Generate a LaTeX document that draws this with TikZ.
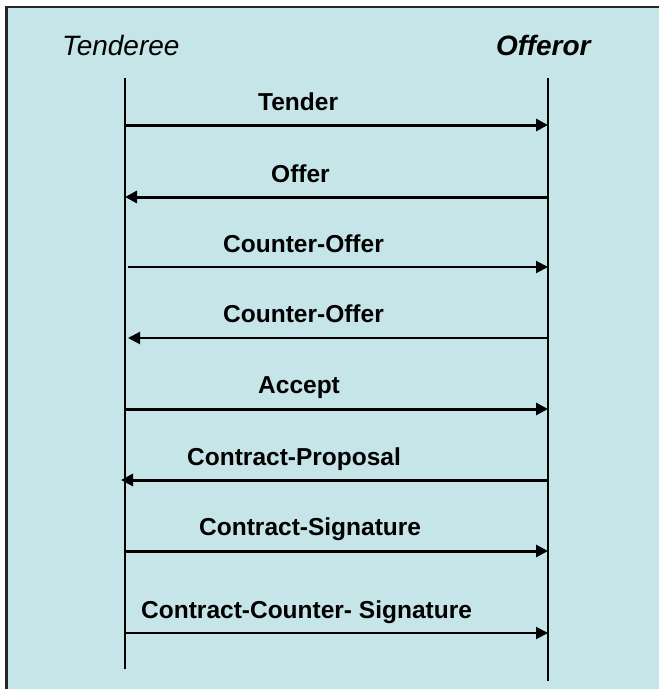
\documentclass[tikz,border=0pt]{standalone}
\usepackage{fontspec}
\setmainfont{Liberation Sans}
\usetikzlibrary{arrows.meta}
\definecolor{bgcyan}{RGB}{198,229,233}
\begin{document}
\begin{tikzpicture}[x=1pt,y=-1pt,
  actor/.style={anchor=base west,inner sep=0pt,font=\fontsize{28}{30}\selectfont},
  msglabel/.style={anchor=base west,inner sep=0pt,font=\fontsize{24.5}{27}\selectfont\bfseries},
  lifeline/.style={line width=2pt,black},
  msgthick/.style={line width=3pt,-{Triangle[length=12pt,width=12pt]}},
  msgthin/.style={line width=2pt,-{Triangle[length=12pt,width=12pt]}}]
\useasboundingbox (0,0) rectangle (659,689);
\fill[bgcyan] (7,7) rectangle (659,689);
\draw[line width=2.5pt,black!85] (6.5,689) -- (6.5,7) -- (659,7);
\node[actor] (tenderee) at (62,55) {\itshape Tenderee};
\node[actor] (offeror) at (496,55) {\bfseries\itshape Offeror};
\coordinate (Ltop) at (125,78);
\coordinate (Lbot) at (125,669);
\coordinate (Rtop) at (548,78);
\coordinate (Rbot) at (548,681);
\draw[lifeline] (Ltop) -- (Lbot);
\draw[lifeline] (Rtop) -- (Rbot);
% message endpoints
\coordinate (l1) at (125,125); \coordinate (r1) at (548,125);
\coordinate (l2) at (125,197); \coordinate (r2) at (548,197);
\coordinate (l3) at (128,267); \coordinate (r3) at (548,267);
\coordinate (l4) at (128,338); \coordinate (r4) at (548,338);
\coordinate (l5) at (125,409); \coordinate (r5) at (548,409);
\coordinate (l6) at (121,480); \coordinate (r6) at (548,480);
\coordinate (l7) at (125,551); \coordinate (r7) at (548,551);
\coordinate (l8) at (125,633); \coordinate (r8) at (548,633);
\node[msglabel] (m1) at (258,110) {Tender};
\node[msglabel] (m2) at (271,182) {Offer};
\node[msglabel] (m3) at (223,252) {Counter-Offer};
\node[msglabel] (m4) at (223,322) {Counter-Offer};
\node[msglabel] (m5) at (258,393) {Accept};
\node[msglabel] (m6) at (187,465) {Contract-Proposal};
\node[msglabel] (m7) at (199,535) {Contract-Signature};
\node[msglabel] (m8) at (141,618) {Contract-Counter- Signature};
\draw[msgthick] (l1) -- (r1);
\draw[msgthick] (r2) -- (l2);
\draw[msgthin] (l3) -- (r3);
\draw[msgthin] (r4) -- (l4);
\draw[msgthick] (l5) -- (r5);
\draw[msgthick] (r6) -- (l6);
\draw[msgthick] (l7) -- (r7);
\draw[msgthin] (l8) -- (r8);
\end{tikzpicture}
\end{document}
